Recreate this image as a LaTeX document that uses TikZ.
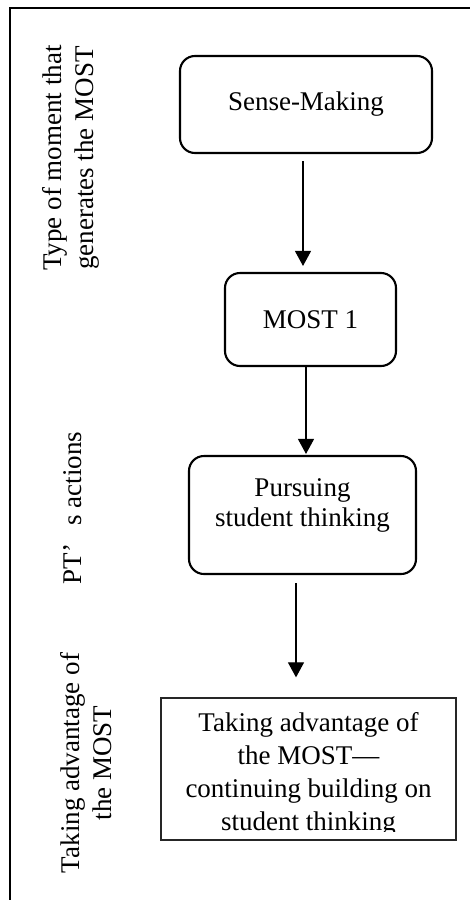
\documentclass[tikz,border=0pt]{standalone}
\usepackage{fontspec}
\setmainfont{Liberation Serif}
\usetikzlibrary{arrows.meta}
\tikzset{
  rbox/.style={draw, line width=2.1pt, rounded corners=15pt, inner sep=0pt},
  plainbox/.style={draw=black!85, line width=1.3pt, inner sep=0pt},
  txt/.style={font=\fontsize{27}{32}\selectfont, align=center, inner sep=0pt, text=black},
  side/.style={txt, rotate=90},
  arr/.style={line width=1.2pt, -{Triangle[width=16pt,length=15pt]}},
  frame/.style={line width=2.2pt}
}
\begin{document}
\begin{tikzpicture}[x=1pt,y=-1pt]
\useasboundingbox (0,0) rectangle (470,900);
% frame
\coordinate (fl) at (10,900);
\coordinate (fc) at (10,8);
\coordinate (fr) at (470,8);
\draw[frame] (fl) -- (fc) -- (fr);
% boxes
\node[rbox, minimum width=252pt, minimum height=97pt] (sense) at (306,104.5) {};
\node[txt] (senset) at (306,104) {Sense-Making};
\node[rbox, minimum width=171pt, minimum height=93pt] (most) at (310.5,319.5) {};
\node[txt] (mostt) at (310.5,320) {MOST 1};
\node[rbox, minimum width=227pt, minimum height=118pt] (pursue) at (302.5,515) {};
\node[txt, font=\fontsize{27}{30}\selectfont] (pursuet) at (302.5,505) {Pursuing\\student thinking};
\node[plainbox, minimum width=295pt, minimum height=142pt] (take) at (308.5,769) {};
\begin{scope}
\clip (take.north west) rectangle (456,831);
\node[txt, font=\fontsize{27}{33}\selectfont] (taket) at (308.5,774) {Taking advantage of\\the MOST—\\continuing building on\\student thinking};
\end{scope}
% arrows
\draw[arr, shorten <=7pt, shorten >=6pt] (sense.south -| 303,0) -- (most.north -| 303,0);
\draw[arr, shorten >=1pt] (most.south -| 306,0) -- (pursue.north -| 306,0);
\draw[arr, shorten <=8pt, shorten >=20pt] (pursue.south -| 296,0) -- (take.north -| 296,0);
% side labels
\node[side] (lab1) at (71,158) {Type of moment that\\generates the MOST};
\node[side] (lab2) at (73,508) {PT’\hspace{18pt}s actions};
\node[side] (lab3) at (86,763) {Taking advantage of\\the MOST};
\end{tikzpicture}
\end{document}
